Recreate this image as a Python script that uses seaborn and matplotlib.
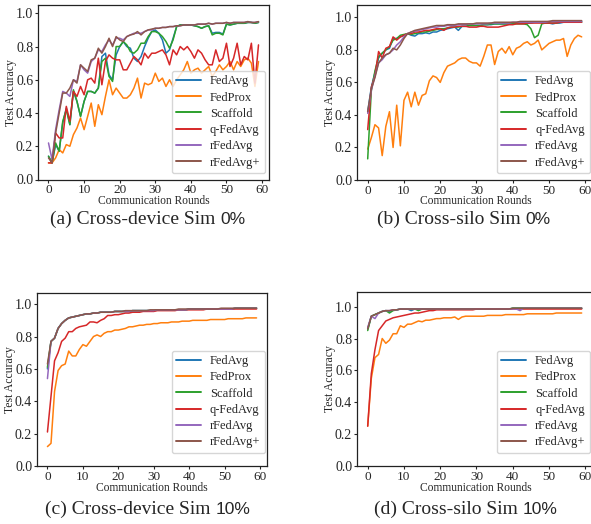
import matplotlib
matplotlib.use("Agg")
import matplotlib.pyplot as plt
import numpy as np
import pandas as pd
import seaborn as sns

methods = ["FedAvg", "FedProx", "Scaffold", "q-FedAvg", "rFedAvg", "rFedAvg+"]
rounds = list(range(60))

# (a) Cross-device Sim 0%
a_fedavg = [0.14, 0.10, 0.21, 0.17, 0.34, 0.43, 0.33, 0.53, 0.47, 0.38,
            0.47, 0.53, 0.53, 0.52, 0.55, 0.74, 0.76, 0.63, 0.60, 0.75,
            0.80, 0.83, 0.80, 0.79, 0.73, 0.71, 0.74, 0.80, 0.85, 0.89,
            0.90, 0.88, 0.84, 0.76, 0.78, 0.85, 0.92, 0.93, 0.93, 0.93,
            0.93, 0.925, 0.92, 0.91, 0.92, 0.925, 0.88, 0.885, 0.885, 0.875,
            0.935, 0.93, 0.935, 0.94, 0.94, 0.94, 0.945, 0.945, 0.94, 0.945]
a_fedprox = [0.10, 0.10, 0.13, 0.18, 0.16, 0.21, 0.20, 0.27, 0.31, 0.37,
             0.30, 0.38, 0.46, 0.32, 0.45, 0.39, 0.50, 0.60, 0.51, 0.55,
             0.52, 0.49, 0.49, 0.51, 0.55, 0.61, 0.49, 0.58, 0.57, 0.58,
             0.64, 0.59, 0.61, 0.56, 0.60, 0.56, 0.60, 0.63, 0.66, 0.71,
             0.64, 0.66, 0.67, 0.64, 0.66, 0.68, 0.62, 0.65, 0.69, 0.66,
             0.68, 0.71, 0.66, 0.71, 0.68, 0.72, 0.73, 0.70, 0.56, 0.71]
a_scaffold = [0.14, 0.10, 0.22, 0.17, 0.35, 0.42, 0.33, 0.54, 0.47, 0.38,
              0.47, 0.53, 0.53, 0.52, 0.55, 0.71, 0.73, 0.62, 0.59, 0.80,
              0.80, 0.83, 0.81, 0.77, 0.76, 0.78, 0.82, 0.82, 0.86, 0.89,
              0.89, 0.88, 0.86, 0.83, 0.79, 0.84, 0.92, 0.93, 0.93, 0.93,
              0.93, 0.925, 0.92, 0.91, 0.92, 0.925, 0.87, 0.88, 0.88, 0.87,
              0.935, 0.93, 0.935, 0.94, 0.94, 0.94, 0.945, 0.945, 0.94, 0.945]
a_qfedavg = [0.10, 0.10, 0.28, 0.25, 0.25, 0.44, 0.35, 0.53, 0.50, 0.56,
             0.51, 0.60, 0.61, 0.58, 0.73, 0.57, 0.71, 0.75, 0.73, 0.72,
             0.72, 0.66, 0.66, 0.70, 0.74, 0.72, 0.69, 0.76, 0.73, 0.76,
             0.76, 0.77, 0.78, 0.75, 0.69, 0.78, 0.75, 0.80, 0.78, 0.80,
             0.77, 0.73, 0.78, 0.76, 0.72, 0.69, 0.69, 0.78, 0.71, 0.73,
             0.82, 0.68, 0.73, 0.82, 0.69, 0.74, 0.72, 0.82, 0.58, 0.81]
a_rfedavg = [0.22, 0.12, 0.30, 0.42, 0.53, 0.52, 0.50, 0.60, 0.59, 0.69,
             0.66, 0.64, 0.71, 0.73, 0.78, 0.77, 0.81, 0.84, 0.81, 0.85,
             0.85, 0.84, 0.86, 0.87, 0.88, 0.88, 0.88, 0.89, 0.90, 0.90,
             0.91, 0.91, 0.915, 0.915, 0.92, 0.92, 0.925, 0.925, 0.93, 0.93,
             0.93, 0.93, 0.935, 0.935, 0.935, 0.94, 0.935, 0.94, 0.94, 0.94,
             0.945, 0.94, 0.945, 0.945, 0.945, 0.945, 0.95, 0.945, 0.945, 0.95]
a_rfedavgp = [0.13, 0.10, 0.28, 0.40, 0.52, 0.52, 0.55, 0.60, 0.58, 0.69,
              0.67, 0.65, 0.72, 0.73, 0.79, 0.76, 0.80, 0.85, 0.80, 0.86,
              0.84, 0.83, 0.86, 0.87, 0.875, 0.89, 0.87, 0.89, 0.90, 0.905,
              0.91, 0.91, 0.915, 0.915, 0.92, 0.92, 0.925, 0.925, 0.93, 0.93,
              0.93, 0.93, 0.935, 0.935, 0.935, 0.94, 0.935, 0.94, 0.94, 0.94,
              0.945, 0.94, 0.945, 0.945, 0.945, 0.945, 0.95, 0.945, 0.945, 0.95]

# (b) Cross-silo Sim 0%
b_fedavg = [0.42, 0.57, 0.66, 0.75, 0.78, 0.80, 0.81, 0.87, 0.87, 0.88,
            0.89, 0.90, 0.89, 0.885, 0.90, 0.90, 0.905, 0.90, 0.91, 0.91,
            0.92, 0.925, 0.93, 0.935, 0.94, 0.92, 0.945, 0.945, 0.95, 0.95,
            0.95, 0.95, 0.955, 0.955, 0.955, 0.96, 0.96, 0.96, 0.96, 0.96,
            0.96, 0.965, 0.965, 0.965, 0.965, 0.965, 0.97, 0.97, 0.97, 0.965,
            0.965, 0.96, 0.965, 0.965, 0.97, 0.97, 0.97, 0.97, 0.97, 0.975]
b_fedprox = [0.19, 0.26, 0.34, 0.32, 0.15, 0.33, 0.42, 0.20, 0.46, 0.21,
             0.49, 0.54, 0.45, 0.54, 0.46, 0.52, 0.53, 0.61, 0.64, 0.63,
             0.60, 0.66, 0.70, 0.71, 0.72, 0.74, 0.75, 0.75, 0.73, 0.72,
             0.72, 0.70, 0.76, 0.83, 0.83, 0.71, 0.79, 0.81, 0.78, 0.82,
             0.77, 0.81, 0.82, 0.84, 0.85, 0.83, 0.84, 0.86, 0.80, 0.82,
             0.84, 0.85, 0.86, 0.86, 0.87, 0.76, 0.83, 0.87, 0.89, 0.88]
b_scaffold = [0.13, 0.55, 0.67, 0.76, 0.78, 0.80, 0.82, 0.86, 0.87, 0.89,
              0.895, 0.90, 0.895, 0.90, 0.905, 0.91, 0.91, 0.915, 0.92, 0.925,
              0.93, 0.93, 0.935, 0.94, 0.94, 0.94, 0.945, 0.945, 0.95, 0.95,
              0.95, 0.95, 0.955, 0.955, 0.96, 0.96, 0.96, 0.96, 0.96, 0.96,
              0.96, 0.96, 0.96, 0.96, 0.955, 0.93, 0.875, 0.89, 0.96, 0.965,
              0.965, 0.965, 0.965, 0.97, 0.97, 0.97, 0.97, 0.97, 0.97, 0.97]
b_qfedavg = [0.31, 0.57, 0.64, 0.79, 0.75, 0.81, 0.82, 0.88, 0.86, 0.88,
             0.89, 0.90, 0.90, 0.91, 0.91, 0.915, 0.92, 0.92, 0.925, 0.93,
             0.93, 0.92, 0.935, 0.94, 0.94, 0.945, 0.945, 0.945, 0.94, 0.94,
             0.94, 0.945, 0.945, 0.94, 0.94, 0.94, 0.94, 0.945, 0.95, 0.955,
             0.955, 0.96, 0.96, 0.96, 0.965, 0.965, 0.965, 0.965, 0.965, 0.965,
             0.965, 0.965, 0.965, 0.97, 0.97, 0.97, 0.97, 0.97, 0.97, 0.97]
b_rfedavg = [0.41, 0.55, 0.64, 0.72, 0.74, 0.77, 0.78, 0.80, 0.83, 0.85,
             0.88, 0.90, 0.91, 0.915, 0.92, 0.925, 0.93, 0.935, 0.94, 0.94,
             0.945, 0.945, 0.95, 0.95, 0.95, 0.955, 0.955, 0.955, 0.96, 0.96,
             0.96, 0.96, 0.96, 0.96, 0.965, 0.965, 0.965, 0.965, 0.965, 0.965,
             0.97, 0.97, 0.97, 0.97, 0.97, 0.97, 0.97, 0.97, 0.97, 0.97,
             0.975, 0.975, 0.975, 0.975, 0.975, 0.975, 0.975, 0.975, 0.975, 0.975]
b_rfedavgp = [0.42, 0.56, 0.63, 0.72, 0.75, 0.77, 0.78, 0.81, 0.80, 0.83,
              0.87, 0.90, 0.91, 0.92, 0.925, 0.93, 0.935, 0.94, 0.945, 0.95,
              0.95, 0.95, 0.955, 0.955, 0.955, 0.96, 0.96, 0.96, 0.96, 0.96,
              0.965, 0.965, 0.965, 0.965, 0.965, 0.97, 0.97, 0.97, 0.97, 0.97,
              0.97, 0.97, 0.975, 0.975, 0.975, 0.975, 0.975, 0.975, 0.975, 0.975,
              0.975, 0.98, 0.98, 0.98, 0.98, 0.98, 0.98, 0.98, 0.98, 0.98]

# (c) Cross-device Sim 10%
c_fedavg = [0.60, 0.77, 0.79, 0.85, 0.88, 0.90, 0.915, 0.92, 0.925, 0.93,
            0.935, 0.94, 0.94, 0.945, 0.945, 0.95, 0.95, 0.95, 0.95, 0.955,
            0.955, 0.955, 0.955, 0.955, 0.96, 0.96, 0.96, 0.96, 0.96, 0.96,
            0.96, 0.965, 0.965, 0.965, 0.965, 0.965, 0.965, 0.965, 0.965, 0.965,
            0.97, 0.97, 0.97, 0.97, 0.97, 0.97, 0.97, 0.97, 0.97, 0.97,
            0.97, 0.97, 0.97, 0.975, 0.975, 0.975, 0.975, 0.975, 0.975, 0.975]
c_fedprox = [0.12, 0.14, 0.46, 0.59, 0.62, 0.63, 0.71, 0.68, 0.68, 0.72,
             0.75, 0.74, 0.77, 0.80, 0.81, 0.80, 0.82, 0.83, 0.83, 0.84,
             0.84, 0.845, 0.85, 0.86, 0.86, 0.865, 0.87, 0.87, 0.875, 0.875,
             0.88, 0.88, 0.885, 0.885, 0.885, 0.89, 0.89, 0.89, 0.895, 0.895,
             0.895, 0.90, 0.90, 0.90, 0.90, 0.90, 0.905, 0.905, 0.905, 0.905,
             0.905, 0.91, 0.91, 0.91, 0.91, 0.91, 0.915, 0.915, 0.915, 0.915]
c_scaffold = [0.61, 0.77, 0.79, 0.85, 0.88, 0.90, 0.915, 0.92, 0.925, 0.93,
              0.935, 0.94, 0.94, 0.945, 0.945, 0.95, 0.95, 0.95, 0.95, 0.955,
              0.955, 0.955, 0.955, 0.955, 0.96, 0.96, 0.96, 0.96, 0.96, 0.96,
              0.96, 0.965, 0.965, 0.965, 0.965, 0.965, 0.965, 0.965, 0.965, 0.965,
              0.97, 0.97, 0.97, 0.97, 0.97, 0.97, 0.97, 0.97, 0.97, 0.97,
              0.97, 0.97, 0.97, 0.975, 0.975, 0.975, 0.975, 0.975, 0.975, 0.975]
c_qfedavg = [0.21, 0.43, 0.65, 0.70, 0.77, 0.79, 0.83, 0.83, 0.85, 0.86,
             0.865, 0.87, 0.89, 0.89, 0.885, 0.90, 0.91, 0.93, 0.93, 0.935,
             0.935, 0.94, 0.945, 0.945, 0.95, 0.95, 0.95, 0.955, 0.955, 0.955,
             0.955, 0.96, 0.96, 0.96, 0.96, 0.96, 0.96, 0.965, 0.965, 0.965,
             0.965, 0.965, 0.965, 0.965, 0.965, 0.97, 0.97, 0.97, 0.97, 0.97,
             0.97, 0.97, 0.97, 0.97, 0.97, 0.97, 0.97, 0.97, 0.97, 0.97]
c_rfedavg = [0.54, 0.77, 0.79, 0.85, 0.88, 0.90, 0.915, 0.92, 0.925, 0.93,
             0.935, 0.94, 0.94, 0.945, 0.945, 0.95, 0.95, 0.95, 0.95, 0.955,
             0.955, 0.955, 0.955, 0.955, 0.96, 0.96, 0.96, 0.96, 0.96, 0.96,
             0.96, 0.965, 0.965, 0.965, 0.965, 0.965, 0.965, 0.965, 0.965, 0.965,
             0.97, 0.97, 0.97, 0.97, 0.97, 0.97, 0.97, 0.97, 0.97, 0.97,
             0.97, 0.97, 0.97, 0.975, 0.975, 0.975, 0.975, 0.975, 0.975, 0.975]
c_rfedavgp = [0.63, 0.77, 0.79, 0.85, 0.88, 0.90, 0.915, 0.92, 0.925, 0.93,
              0.935, 0.94, 0.94, 0.945, 0.945, 0.95, 0.95, 0.95, 0.95, 0.955,
              0.955, 0.955, 0.96, 0.96, 0.96, 0.96, 0.96, 0.96, 0.96, 0.965,
              0.965, 0.965, 0.965, 0.965, 0.965, 0.965, 0.965, 0.97, 0.97, 0.97,
              0.97, 0.97, 0.97, 0.97, 0.97, 0.97, 0.97, 0.97, 0.97, 0.975,
              0.975, 0.975, 0.975, 0.975, 0.975, 0.975, 0.975, 0.975, 0.975, 0.975]

# (d) Cross-silo Sim 10%
d_fedavg = [0.86, 0.94, 0.95, 0.96, 0.97, 0.975, 0.97, 0.98, 0.98, 0.985,
            0.985, 0.985, 0.975, 0.985, 0.985, 0.985, 0.985, 0.985, 0.985, 0.985,
            0.985, 0.985, 0.985, 0.985, 0.985, 0.985, 0.985, 0.985, 0.985, 0.985,
            0.985, 0.985, 0.985, 0.985, 0.985, 0.985, 0.985, 0.985, 0.985, 0.985,
            0.99, 0.99, 0.99, 0.99, 0.99, 0.99, 0.99, 0.99, 0.99, 0.99,
            0.99, 0.99, 0.99, 0.99, 0.99, 0.99, 0.99, 0.99, 0.99, 0.99]
d_fedprox = [0.25, 0.55, 0.68, 0.70, 0.80, 0.77, 0.79, 0.83, 0.83, 0.88,
             0.87, 0.89, 0.89, 0.90, 0.91, 0.905, 0.915, 0.915, 0.92, 0.925,
             0.925, 0.93, 0.93, 0.93, 0.935, 0.92, 0.935, 0.94, 0.94, 0.94,
             0.94, 0.94, 0.94, 0.945, 0.945, 0.945, 0.945, 0.945, 0.95, 0.95,
             0.95, 0.95, 0.95, 0.95, 0.955, 0.955, 0.955, 0.955, 0.955, 0.955,
             0.955, 0.955, 0.96, 0.96, 0.96, 0.96, 0.96, 0.96, 0.96, 0.96]
d_scaffold = [0.85, 0.94, 0.95, 0.96, 0.97, 0.975, 0.96, 0.975, 0.98, 0.985,
              0.985, 0.985, 0.985, 0.985, 0.975, 0.985, 0.985, 0.985, 0.985, 0.985,
              0.985, 0.985, 0.985, 0.985, 0.985, 0.985, 0.985, 0.985, 0.985, 0.985,
              0.985, 0.985, 0.985, 0.985, 0.985, 0.985, 0.985, 0.985, 0.985, 0.985,
              0.99, 0.99, 0.99, 0.99, 0.99, 0.99, 0.99, 0.99, 0.99, 0.99,
              0.99, 0.99, 0.99, 0.99, 0.99, 0.99, 0.99, 0.99, 0.99, 0.99]
d_qfedavg = [0.25, 0.58, 0.73, 0.85, 0.88, 0.91, 0.92, 0.93, 0.935, 0.94,
             0.945, 0.95, 0.955, 0.96, 0.96, 0.965, 0.97, 0.975, 0.975, 0.98,
             0.98, 0.98, 0.98, 0.98, 0.98, 0.98, 0.98, 0.98, 0.98, 0.98,
             0.985, 0.985, 0.985, 0.985, 0.985, 0.985, 0.985, 0.985, 0.985, 0.985,
             0.985, 0.985, 0.985, 0.985, 0.985, 0.985, 0.985, 0.985, 0.985, 0.985,
             0.985, 0.985, 0.985, 0.985, 0.985, 0.985, 0.985, 0.985, 0.985, 0.985]
d_rfedavg = [0.87, 0.94, 0.925, 0.96, 0.97, 0.975, 0.975, 0.98, 0.98, 0.985,
             0.985, 0.985, 0.985, 0.985, 0.985, 0.985, 0.985, 0.985, 0.985, 0.985,
             0.985, 0.985, 0.985, 0.985, 0.985, 0.985, 0.985, 0.985, 0.985, 0.985,
             0.985, 0.985, 0.985, 0.985, 0.985, 0.985, 0.985, 0.985, 0.985, 0.985,
             0.985, 0.985, 0.975, 0.99, 0.99, 0.99, 0.99, 0.99, 0.99, 0.99,
             0.99, 0.99, 0.99, 0.99, 0.99, 0.99, 0.99, 0.99, 0.99, 0.99]
d_rfedavgp = [0.86, 0.94, 0.95, 0.96, 0.97, 0.975, 0.975, 0.98, 0.98, 0.985,
              0.985, 0.985, 0.985, 0.985, 0.985, 0.985, 0.985, 0.985, 0.985, 0.985,
              0.985, 0.985, 0.985, 0.985, 0.985, 0.985, 0.985, 0.985, 0.985, 0.985,
              0.985, 0.985, 0.985, 0.985, 0.985, 0.985, 0.985, 0.985, 0.985, 0.985,
              0.99, 0.99, 0.99, 0.99, 0.99, 0.99, 0.99, 0.99, 0.99, 0.99,
              0.99, 0.99, 0.99, 0.99, 0.99, 0.99, 0.99, 0.99, 0.99, 0.99]

# caption split: serif words, then sans-looking percentage
cap_words = ["(a) Cross-device Sim ", "(b) Cross-silo Sim ",
             "(c) Cross-device Sim ", "(d) Cross-silo Sim "]
cap_pct = ["0%", "0%", "10%", "10%"]
xticks = [0, 10, 20, 30, 40, 50, 60]
yticks = [0.0, 0.2, 0.4, 0.6, 0.8, 1.0]
panels = [
    [a_fedavg, a_fedprox, a_scaffold, a_qfedavg, a_rfedavg, a_rfedavgp],
    [b_fedavg, b_fedprox, b_scaffold, b_qfedavg, b_rfedavg, b_rfedavgp],
    [c_fedavg, c_fedprox, c_scaffold, c_qfedavg, c_rfedavg, c_rfedavgp],
    [d_fedavg, d_fedprox, d_scaffold, d_qfedavg, d_rfedavg, d_rfedavgp],
]

sns.set_style("ticks")
SERIF = ['Liberation Serif', 'DejaVu Serif']
plt.rcParams['font.family'] = SERIF

W, H = 591, 524
fig = plt.figure(figsize=(W / 100, H / 100), dpi=100)
renderer = fig.canvas.get_renderer()

# pixel layout per panel:
# left, right, top, bottom, xmax, ytop, caption x, caption y, xlabel y, legend corner
boxes = [
    (38, 269, 5, 179.5, 61.95, 1.05, 148, 219, 201.5, (265, 173)),
    (357, 594, 5, 180, 62.4, 1.076, 464, 219, 201.5, (590, 173)),
    (37, 267, 292.5, 466, 61.95, 1.072, 148, 509, 488, (265, 453)),
    (357, 594, 291.5, 466, 62.4, 1.095, 466, 509, 488, (590, 453)),
]
palette = sns.color_palette("tab10", 6)

for k, series in enumerate(panels):
    l, r, t, b, xmax, ytop, cx, cy, xly, (lx, lyb) = boxes[k]
    ax = fig.add_axes([l / W, 1 - b / H, (r - l) / W, (b - t) / H])
    df = pd.DataFrame({
        "round": rounds * len(methods),
        "acc": np.concatenate(series),
        "method": np.repeat(methods, len(rounds)),
    })
    sns.lineplot(data=df, x="round", y="acc", hue="method", hue_order=methods,
                 palette=palette, linewidth=1.1, ax=ax)
    ax.set_xlim(-2.95, xmax)
    ax.set_ylim(0, ytop)
    ax.set_xticks(xticks)
    ax.set_xticklabels([str(v) for v in xticks], fontfamily=SERIF, fontsize=9.5)
    ax.set_yticks(yticks)
    ax.set_yticklabels([f"{v:.1f}" for v in yticks], fontfamily=SERIF, fontsize=10)
    ax.tick_params(length=2.5, width=0.8, pad=1)
    ax.set_xlabel("")
    ax.set_ylabel("Test Accuracy", fontsize=8.5, labelpad=-1, fontfamily=SERIF)
    for sp in ax.spines.values():
        sp.set_linewidth(0.9)
        sp.set_color("#222222")
    h, lab = ax.get_legend_handles_labels()
    leg = ax.legend(h, lab, loc="lower right",
                    bbox_to_anchor=(lx / W, 1 - lyb / H),
                    bbox_transform=fig.transFigure, borderaxespad=0,
                    frameon=True, handlelength=2.0, labelspacing=0.34,
                    borderpad=0.36, handletextpad=0.7,
                    prop={'family': SERIF, 'size': 9})
    for line in leg.get_lines():
        line.set_linewidth(1.4)
    fig.text((l + r) / 2 / W, 1 - xly / H, "Communication Rounds",
             ha="center", va="center", fontsize=8.3)

    # caption: serif words followed by the sans percent, centred as one line
    t1 = fig.text(0, 1 - cy / H, cap_words[k], ha="left", va="center",
                  fontsize=14, fontfamily=SERIF)
    t2 = fig.text(0, 1 - cy / H, cap_pct[k], ha="left", va="center",
                  fontsize=12.5, fontfamily=['Liberation Sans', 'DejaVu Sans'])
    w1 = t1.get_window_extent(renderer).width
    w2 = t2.get_window_extent(renderer).width
    x0 = cx - (w1 + w2) / 2
    t1.set_x(x0 / W)
    t2.set_x((x0 + w1) / W)

fig.savefig("out.png", dpi=100)
